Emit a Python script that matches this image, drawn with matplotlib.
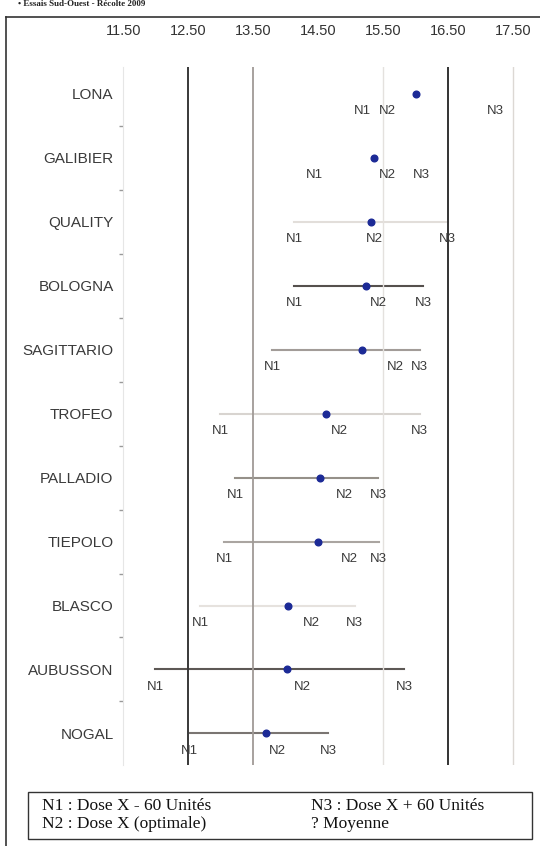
import matplotlib
matplotlib.use("Agg")
import matplotlib.pyplot as plt
from matplotlib.lines import Line2D
from matplotlib.patches import Rectangle

# ---- data (yield per variety, N1/N2/N3 doses and mean) ----
varieties = ['LONA', 'GALIBIER', 'QUALITY', 'BOLOGNA', 'SAGITTARIO', 'TROFEO',
             'PALLADIO', 'TIEPOLO', 'BLASCO', 'AUBUSSON', 'NOGAL']
mean_val = [16.00, 15.36, 15.31, 15.23, 15.18, 14.62, 14.52, 14.49, 14.04, 14.02, 13.70]
n1_val = [15.18, 14.44, 14.13, 14.13, 13.79, 12.99, 13.22, 13.05, 12.68, 11.99, 12.52]
n2_val = [15.56, 15.56, 15.37, 15.43, 15.68, 14.82, 14.90, 14.98, 14.40, 14.26, 13.87]
n3_val = [17.23, 16.09, 16.49, 16.11, 16.06, 16.06, 15.42, 15.43, 15.06, 15.82, 14.65]
range_col = ['none', 'none', '#e2deda', '#55504d', '#a29c98', '#d8d4d0',
             '#959089', '#aaa5a1', '#e6e2de', '#5d5855', '#7a7572']
xticks = [11.5, 12.5, 13.5, 14.5, 15.5, 16.5, 17.5]
ref_lines = {12.5: ('#383838', 1.4), 13.5: ('#a09a96', 1.3), 15.5: ('#e4e1de', 1.0),
             16.5: ('#333333', 1.4), 17.5: ('#dcd8d4', 1.0)}

W, H = 540, 846
fig = plt.figure(figsize=(W / 100, H / 100), dpi=100)
ax = fig.add_axes([123.3 / W, 1 - 765.4 / H, 416 / W, (765.4 - 67) / H])

y = list(range(len(varieties)))
for i in y:
    if range_col[i] != 'none':
        ax.plot([n1_val[i], n3_val[i]], [i, i], color=range_col[i], lw=1.5, zorder=2)
    for lab, v in (('N1', n1_val[i]), ('N2', n2_val[i]), ('N3', n3_val[i])):
        ax.text(v, i + 0.27, lab, ha='center', va='center', fontsize=9.5,
                color='#3a3a3a', family='Liberation Sans', zorder=4)
for xv, (c, lw) in ref_lines.items():
    ax.axvline(xv, color=c, lw=lw, zorder=3)
ax.plot(mean_val, y, 'o', color='#1c2a96', ms=4.8, zorder=5)

ax.set_xlim(11.5, 17.9)
ax.set_ylim(len(varieties) - 0.5, -0.42)
ax.set_xticks(xticks)
ax.set_xticklabels([f'{v:.2f}' for v in xticks], fontsize=10.5, color='#333333',
                   family='Liberation Sans')
ax.xaxis.set_ticks_position('top')
ax.tick_params(axis='x', length=0, pad=21)
ax.set_yticks(y)
ax.set_yticklabels(varieties, fontsize=11, color='#3a3a3a', family='Liberation Sans')
ax.set_yticks([i + 0.5 for i in y[:-1]], minor=True)
ax.tick_params(axis='y', which='major', length=0, pad=7)
ax.tick_params(axis='y', which='minor', length=3, color='#999999', width=1)
for s in ('top', 'right', 'bottom'):
    ax.spines[s].set_visible(False)
ax.spines['left'].set_color('#e6e6e6')

# page frame and header
fig.add_artist(Line2D([6 / W, 6 / W], [0, 1 - 17 / H], color='#333333', lw=1.2))
fig.add_artist(Line2D([6 / W, 1], [1 - 17 / H, 1 - 17 / H], color='#333333', lw=1.2))
fig.text(18 / W, 1 - 0.5 / H, '• Essais Sud-Ouest - Récolte 2009', fontsize=6.5,
         fontweight='bold', family='Liberation Serif', va='top', color='#222222')

# legend box
fig.add_artist(Rectangle((28 / W, 1 - 839 / H), 504 / W, 47 / H, transform=fig.transFigure,
                         fill=False, ec='#333333', lw=1))
legend_txt = [('N1 : Dose X - 60 Unités', 42, 806), ('N2 : Dose X (optimale)', 42, 824),
              ('N3 : Dose X + 60 Unités', 311, 806), ('? Moyenne', 311, 824)]
for t, px, py in legend_txt:
    fig.text(px / W, 1 - py / H, t, fontsize=12.5, family='Liberation Serif',
             va='center', color='#111111')

fig.savefig('out.png', dpi=100)
